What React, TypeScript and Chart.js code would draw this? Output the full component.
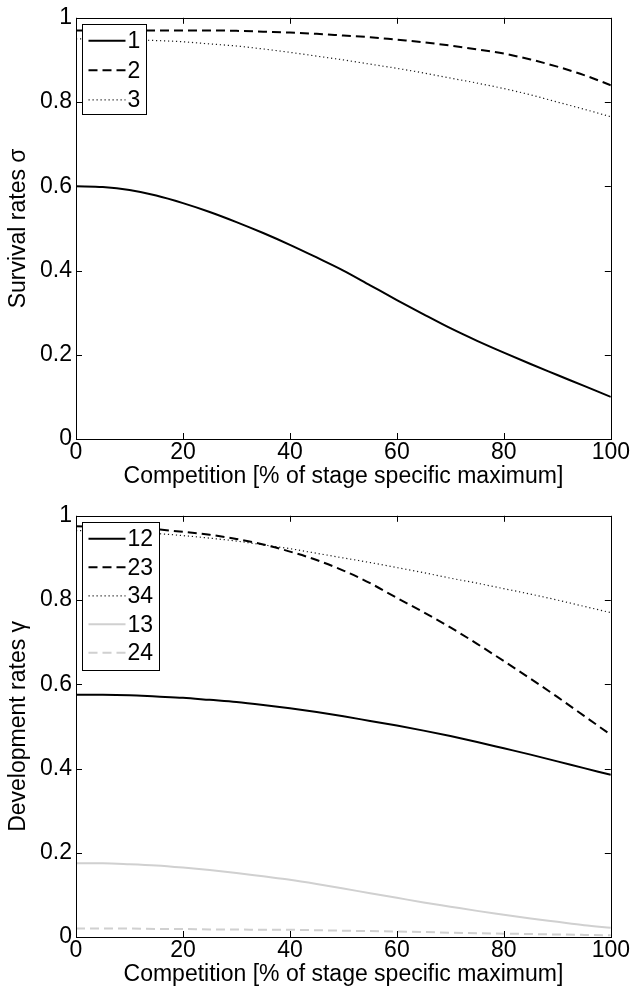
import React, { useEffect, useRef } from "react";
import { Chart, registerables } from "chart.js";

Chart.register(...registerables);

const X = [0, 5, 10, 15, 20, 25, 30, 35, 40, 45, 50, 55, 60, 65, 70, 75, 80, 85, 90, 95, 100];
const X_TICKS = [0, 20, 40, 60, 80, 100];
const Y_TICKS = [0, 0.2, 0.4, 0.6, 0.8, 1];

// Survival rates sigma
const S1 = [0.6, 0.598, 0.591, 0.578, 0.56, 0.539, 0.515, 0.489, 0.461, 0.431, 0.4, 0.365, 0.33, 0.296, 0.263, 0.233, 0.205, 0.178, 0.152, 0.126, 0.1];
const S2 = [0.97, 0.97, 0.97, 0.97, 0.97, 0.97, 0.969, 0.967, 0.965, 0.962, 0.958, 0.954, 0.948, 0.942, 0.934, 0.925, 0.915, 0.901, 0.884, 0.864, 0.84];
const S3 = [0.95, 0.949, 0.948, 0.946, 0.943, 0.938, 0.933, 0.926, 0.918, 0.909, 0.9, 0.89, 0.88, 0.869, 0.857, 0.845, 0.832, 0.817, 0.8, 0.783, 0.765];

// Development rates gamma
const D12 = [0.575, 0.575, 0.574, 0.571, 0.568, 0.563, 0.558, 0.551, 0.543, 0.534, 0.524, 0.513, 0.502, 0.49, 0.477, 0.463, 0.448, 0.433, 0.417, 0.401, 0.385];
const D23 = [0.975, 0.974, 0.972, 0.968, 0.962, 0.955, 0.945, 0.932, 0.915, 0.895, 0.87, 0.84, 0.805, 0.771, 0.735, 0.696, 0.655, 0.613, 0.57, 0.525, 0.48];
const D34 = [0.965, 0.964, 0.962, 0.958, 0.953, 0.947, 0.94, 0.931, 0.922, 0.911, 0.9, 0.889, 0.877, 0.865, 0.852, 0.84, 0.827, 0.814, 0.8, 0.785, 0.77];
const D13 = [0.175, 0.175, 0.173, 0.17, 0.165, 0.159, 0.152, 0.144, 0.136, 0.126, 0.115, 0.104, 0.093, 0.082, 0.072, 0.062, 0.053, 0.044, 0.036, 0.028, 0.022];
const D24 = [0.02, 0.02, 0.02, 0.019, 0.019, 0.018, 0.018, 0.017, 0.017, 0.016, 0.015, 0.014, 0.013, 0.012, 0.01, 0.009, 0.008, 0.007, 0.006, 0.005, 0.004];

const FONT = "'Liberation Sans', Arial, Helvetica, sans-serif";
const FS = 23;

type Style = { color: string; width: number; dash: number[] };
const SOLID: Style = { color: "#000000", width: 2, dash: [] };
const DASHED: Style = { color: "#000000", width: 2, dash: [9, 5] };
const DOTTED: Style = { color: "#1a1a1a", width: 1.2, dash: [1.2, 2.8] };
const GSOLID: Style = { color: "#d0d0d0", width: 2, dash: [] };
const GDASHED: Style = { color: "#d0d0d0", width: 2, dash: [9, 5] };

const boxPlugin = {
  id: "matBox",
  afterDraw(chart: any, _args: any, opts: any) {
    const { ctx, chartArea: a, scales } = chart;
    ctx.save();
    ctx.strokeStyle = "#000";
    ctx.lineWidth = 1;
    ctx.setLineDash([]);
    ctx.beginPath();
    const L = 6;
    scales.x.ticks.forEach((t: any) => {
      const px = Math.round(scales.x.getPixelForValue(t.value)) + 0.5;
      ctx.moveTo(px, a.bottom);
      ctx.lineTo(px, a.bottom - L);
      ctx.moveTo(px, a.top);
      ctx.lineTo(px, a.top + L);
    });
    scales.y.ticks.forEach((t: any) => {
      const py = Math.round(scales.y.getPixelForValue(t.value)) + 0.5;
      ctx.moveTo(a.left, py);
      ctx.lineTo(a.left + L, py);
      ctx.moveTo(a.right, py);
      ctx.lineTo(a.right - L, py);
    });
    ctx.stroke();
    ctx.strokeRect(Math.round(a.left) + 0.5, Math.round(a.top) + 0.5, Math.round(a.right - a.left), Math.round(a.bottom - a.top));

    // legend
    const ds = chart.data.datasets;
    const bx = Math.round(a.left + 6) + 0.5;
    const by = Math.round(a.top + 6) + 0.5;
    const rowH = opts.rowH;
    ctx.fillStyle = "#fff";
    ctx.fillRect(bx, by, opts.width, opts.height);
    ctx.strokeStyle = "#000";
    ctx.lineWidth = 1;
    ctx.strokeRect(bx, by, opts.width, opts.height);
    ctx.font = `${FS}px ${FONT}`;
    ctx.textBaseline = "middle";
    ctx.textAlign = "left";
    ds.forEach((d: any, i: number) => {
      const cy = a.top + opts.first + i * rowH;
      ctx.beginPath();
      ctx.strokeStyle = d.borderColor;
      ctx.lineWidth = d.borderWidth;
      ctx.setLineDash(d.borderDash || []);
      ctx.moveTo(bx + 6, cy);
      ctx.lineTo(bx + 43, cy);
      ctx.stroke();
      ctx.setLineDash([]);
      ctx.fillStyle = "#000";
      ctx.fillText(d.label, bx + 45, cy + 1);
    });
    ctx.restore();
  },
};

function makeDs(label: string, ys: number[], s: Style) {
  return {
    label,
    data: X.map((x, i) => ({ x, y: ys[i] })),
    borderColor: s.color,
    borderWidth: s.width,
    borderDash: s.dash,
    pointRadius: 0,
    fill: false,
    cubicInterpolationMode: "monotone" as const,
  };
}

function MatChart(props: { series: { label: string; ys: number[]; style: Style }[]; yTitle: string; legend: any }) {
  const ref = useRef<HTMLCanvasElement | null>(null);
  useEffect(() => {
    if (!ref.current) return;
    const chart = new Chart(ref.current, {
      type: "line",
      data: { datasets: props.series.map((s) => makeDs(s.label, s.ys, s.style)) },
      options: {
        responsive: false,
        animation: false,
        layout: { padding: { top: 15, right: 21, left: 0, bottom: 10 } },
        plugins: { legend: { display: false }, tooltip: { enabled: false }, matBox: props.legend } as any,
        scales: {
          x: {
            type: "linear",
            min: 0,
            max: 100,
            afterBuildTicks: (s: any) => {
              s.ticks = X_TICKS.map((v) => ({ value: v }));
            },
            afterFit: (s: any) => {
              s.height = 49;
            },
            grid: { display: false, drawTicks: false },
            border: { display: false },
            ticks: { color: "#000", font: { family: FONT, size: FS, lineHeight: 1 }, padding: 2, maxRotation: 0, autoSkip: false },
            title: {
              display: true,
              text: "Competition [% of stage specific maximum]",
              color: "#000",
              font: { family: FONT, size: FS, lineHeight: 1 },
              padding: { top: 0, bottom: 0 },
            },
          },
          y: {
            type: "linear",
            min: 0,
            max: 1,
            afterBuildTicks: (s: any) => {
              s.ticks = Y_TICKS.map((v) => ({ value: v }));
            },
            afterFit: (s: any) => {
              s.width = 76;
            },
            grid: { display: false, drawTicks: false },
            border: { display: false },
            ticks: {
              color: "#000",
              font: { family: FONT, size: FS },
              padding: 4,
              callback: (v: any) => String(+Number(v).toFixed(1)),
            },
            title: {
              display: true,
              text: props.yTitle,
              color: "#000",
              font: { family: FONT, size: FS, lineHeight: 1 },
              padding: { top: 7, bottom: 0 },
            },
          },
        },
      },
      plugins: [boxPlugin],
    });
    return () => chart.destroy();
  }, []);
  return <canvas ref={ref} width={632} height={498} style={{ display: "block", width: 632, height: 498 }} />;
}

export default function App() {
  return (
    <div style={{ position: "absolute", left: 0, top: 0, width: 632, height: 996, background: "#fff" }}>
      <MatChart
        yTitle="Survival rates σ"
        legend={{ rowH: 29.5, first: 23, width: 64, height: 90 }}
        series={[
          { label: "1", ys: S1, style: SOLID },
          { label: "2", ys: S2, style: DASHED },
          { label: "3", ys: S3, style: DOTTED },
        ]}
      />
      <MatChart
        yTitle="Development rates γ"
        legend={{ rowH: 28.5, first: 23, width: 77, height: 148 }}
        series={[
          { label: "12", ys: D12, style: SOLID },
          { label: "23", ys: D23, style: DASHED },
          { label: "34", ys: D34, style: DOTTED },
          { label: "13", ys: D13, style: GSOLID },
          { label: "24", ys: D24, style: GDASHED },
        ]}
      />
    </div>
  );
}
